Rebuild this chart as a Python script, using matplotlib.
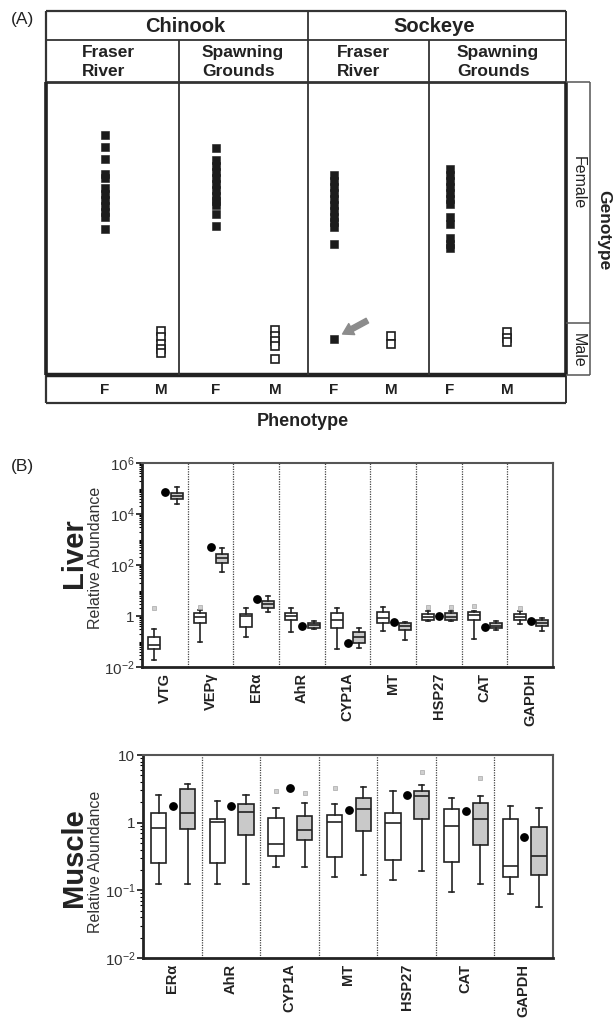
import numpy as np
import matplotlib
matplotlib.use('Agg')
import matplotlib.pyplot as plt
from matplotlib.ticker import FixedLocator, FixedFormatter, LogLocator, NullFormatter

plt.rcParams['font.family'] = ['Liberation Sans', 'DejaVu Sans']
plt.rcParams['mathtext.fontset'] = 'custom'
plt.rcParams['mathtext.rm'] = 'Liberation Sans'
plt.rcParams['mathtext.default'] = 'regular'

# ---------------- Panel A data ----------------
species = ['Chinook', 'Sockeye']
sites = ['Fraser\nRiver', 'Spawning\nGrounds', 'Fraser\nRiver', 'Spawning\nGrounds']
phenotypes = ['F', 'M', 'F', 'M', 'F', 'M', 'F', 'M']
# genotype score of each fish (0 = male end, 100 = female end)
geno_scores = [
    [81.9, 77.7, 73.6, 68.6, 67.2, 63.8, 61.8, 59.7, 57.7, 55.6, 53.8, 50.0],
    [15.0, 13.0, 10.6, 8.9, 7.5],
    [77.6, 73.4, 71.3, 69.3, 67.2, 65.2, 63.1, 61.1, 59.4, 58.0, 54.8, 51.0],
    [15.4, 13.3, 11.6, 9.9, 5.3],
    [68.3, 66.2, 64.2, 62.1, 60.1, 58.0, 56.0, 53.9, 52.2, 50.5, 44.7, 12.4],
    [13.3, 10.6],
    [70.3, 68.3, 66.2, 64.2, 62.1, 60.1, 58.5, 53.8, 51.5, 46.8, 44.7, 43.3],
    [14.7, 12.6, 11.1],
]
arrow_fish = (4, 11)  # the phenotypic female with male genotype

# ---------------- Panel B data ----------------
# box stats: [whisker low, q1, median, q3, whisker high]
liver_genes = ['VTG', 'VEPγ', 'ERα', 'AhR', 'CYP1A', 'MT', 'HSP27', 'CAT', 'GAPDH']
liver_white = [
    [0.019, 0.051, 0.072, 0.155, 0.30],
    [0.098, 0.51, 0.93, 1.26, 1.7],
    [0.155, 0.38, 1.0, 1.17, 2.1],
    [0.24, 0.69, 1.0, 1.35, 2.0],
    [0.051, 0.33, 0.69, 1.35, 2.1],
    [0.26, 0.55, 0.85, 1.48, 2.2],
    [0.66, 0.72, 0.93, 1.2, 1.6],
    [0.13, 0.72, 1.1, 1.45, 1.6],
    [0.47, 0.69, 0.93, 1.17, 1.6],
]
liver_white_out = [[2.1], [2.3], [], [], [], [], [2.3], [2.45], [2.0]]
liver_dot = [74000, 490, 4.8, 0.41, 0.089, 0.58, 1.02, 0.38, 0.66]
liver_gray = [
    [24000, 38000, 51000, 69000, 117000],
    [51, 123, 182, 270, 447],
    [1.4, 2.0, 2.95, 3.9, 6.0],
    [0.30, 0.35, 0.43, 0.51, 0.63],
    [0.054, 0.089, 0.155, 0.24, 0.35],
    [0.11, 0.28, 0.42, 0.55, 0.60],
    [0.62, 0.69, 0.93, 1.35, 1.6],
    [0.28, 0.33, 0.42, 0.51, 0.66],
    [0.26, 0.42, 0.55, 0.69, 0.81],
]
liver_gray_out = [[], [], [], [], [], [], [2.3], [], []]

muscle_genes = ['ERα', 'AhR', 'CYP1A', 'MT', 'HSP27', 'CAT', 'GAPDH']
muscle_white = [
    [0.123, 0.25, 0.83, 1.41, 2.6],
    [0.123, 0.25, 1.02, 1.15, 2.1],
    [0.22, 0.32, 0.49, 1.17, 1.62],
    [0.16, 0.31, 1.02, 1.29, 1.86],
    [0.14, 0.28, 0.98, 1.38, 2.95],
    [0.095, 0.26, 0.89, 1.58, 2.3],
    [0.087, 0.16, 0.23, 1.15, 1.76],
]
muscle_white_out = [[], [], [2.9], [3.2], [], [], []]
muscle_dot = [1.76, 1.76, 3.3, 1.55, 2.6, 1.48, 0.62]
muscle_gray = [
    [0.123, 0.81, 1.41, 3.1, 3.7],
    [0.126, 0.66, 1.45, 1.86, 2.6],
    [0.22, 0.55, 0.79, 1.26, 1.95],
    [0.17, 0.76, 1.58, 2.3, 3.4],
    [0.19, 1.12, 2.5, 2.95, 3.6],
    [0.126, 0.46, 1.12, 1.93, 2.5],
    [0.056, 0.17, 0.32, 0.85, 1.66],
]
muscle_gray_out = [[], [], [2.75], [], [5.6], [4.5], []]

# ---------------- layout (pixels) ----------------
W, H = 614, 1018
ink = '#222222'
fig = plt.figure(figsize=(W / 100, H / 100), dpi=100)


def rect(x0, y0, x1, y1):
    return [x0 / W, 1 - y1 / H, (x1 - x0) / W, (y1 - y0) / H]


# frame axes in pixel units for the table grid
fr = fig.add_axes([0, 0, 1, 1])
fr.set_xlim(0, W)
fr.set_ylim(H, 0)
fr.axis('off')

L, R, T, B = 46, 566, 11, 403
row1, row2, body_bot = 40, 82, 375


def seg(x0, y0, x1, y1, lw=1.3, c='#333333'):
    fr.plot([x0, x1], [y0, y1], color=c, lw=lw, solid_capstyle='butt')


seg(L, T, R, T, 1.6)
seg(L, T, L, B, 1.6)
seg(R, T, R, B, 1.4)
seg(L, B, R, B, 1.6)
seg(L, row1, R, row1, 1.3)
seg(L, row2, R, row2, 2.0)
seg(L, body_bot, R, body_bot, 3.2, ink)
seg(L, row2, L, body_bot, 2.6, ink)
seg(R, row2, R, body_bot, 2.6, ink)
seg(308, T, 308, body_bot, 1.3)
seg(179, row1, 179, body_bot, 1.3)
seg(429, row1, 429, body_bot, 1.3)
# genotype box
seg(R, row2, 590, row2, 1.1, '#555555')
seg(590, row2, 590, body_bot, 1.1, '#555555')
seg(R, body_bot, 590, body_bot, 1.1, '#555555')
seg(R, 323, 590, 323, 1.1, '#555555')

fr.text(22, 19, '(A)', fontsize=12.5, ha='center', va='center', color=ink)
fr.text(185, 26, species[0], fontsize=14.5, fontweight='bold', ha='center', va='center', color=ink)
fr.text(434, 26, species[1], fontsize=14.5, fontweight='bold', ha='center', va='center', color=ink)
for sx, s in zip([82, 202, 337, 457], sites):
    fr.text(sx, 62, s, fontsize=12.5, fontweight='bold', ha='left', va='center',
            multialignment='left', linespacing=1.3, color=ink)
fr.text(303, 421, 'Phenotype', fontsize=13, fontweight='bold', ha='center', va='center', color=ink)
fr.text(604, 230, 'Genotype', fontsize=12.5, fontweight='bold', ha='center', va='center',
        rotation=-90, color=ink)
fr.text(578, 183, 'Female', fontsize=11.5, ha='center', va='center', rotation=-90, color=ink)
fr.text(578, 350, 'Male', fontsize=11.5, ha='center', va='center', rotation=-90, color=ink)

# scatter of genotype scores
col_x = [105, 161, 216, 275, 334, 391, 450, 507]
axA = fig.add_axes(rect(L, row2, R, body_bot))
axA.set_xlim(L, R)
axA.set_ylim(0, 100)
axA.axis('off')
for cx, ph, vals in zip(col_x, phenotypes, geno_scores):
    if ph == 'F':
        axA.plot([cx] * len(vals), vals, 's', ms=5.9, mfc='#1c1c1c', mec='#1c1c1c', mew=0.4)
    else:
        axA.plot([cx] * len(vals), vals, 's', ms=5.4, mfc='white', mec='#1c1c1c', mew=1.2)
    fr.text(cx, 390, ph, fontsize=11, fontweight='bold', ha='center', va='center', color=ink)

ci, fi = arrow_fish
axA.annotate('', xy=(col_x[ci], geno_scores[ci][fi]), xytext=(24, 13), textcoords='offset points',
             arrowprops=dict(arrowstyle='simple,head_length=0.75,head_width=0.9,tail_width=0.38',
                             mutation_scale=10, color='#8c8c8c', shrinkA=0, shrinkB=7))


# ---------------- Panel B ----------------
def draw_panel(ax, genes, white, white_out, dots, gray, gray_out, ylim, ticks, ticklabels):
    n = len(genes)
    ax.set_yscale('log')
    ax.set_xlim(0, n)
    ax.set_ylim(*ylim)
    common = dict(widths=0.26, patch_artist=True, manage_ticks=False, capwidths=0.09,
                  medianprops=dict(color=ink, lw=1.2),
                  whiskerprops=dict(color=ink, lw=1.2),
                  capprops=dict(color=ink, lw=1.2),
                  flierprops=dict(marker='s', ms=2.8, mfc='#cfcfcf', mec='#a8a8a8', mew=0.5))
    for i in range(n):
        for st, out, off, fc in [(white[i], white_out[i], 0.27, 'white'),
                                 (gray[i], gray_out[i], 0.76, '#c9c9c9')]:
            stats = [dict(whislo=st[0], q1=st[1], med=st[2], q3=st[3], whishi=st[4], fliers=out)]
            ax.bxp(stats, positions=[i + off],
                   boxprops=dict(facecolor=fc, edgecolor=ink, lw=1.2), **common)
        ax.plot(i + 0.51, dots[i], 'o', color='black', ms=5.3)
    for k in range(1, n):
        ax.axvline(k, color='#444444', lw=0.9, ls=(0, (1, 1)))
    ax.yaxis.set_major_locator(FixedLocator(ticks))
    ax.yaxis.set_major_formatter(FixedFormatter(ticklabels))
    ax.yaxis.set_minor_locator(LogLocator(base=10, subs=np.arange(1, 10), numticks=50))
    ax.yaxis.set_minor_formatter(NullFormatter())
    ax.tick_params(axis='y', which='major', length=4.5, width=1.1, labelsize=11,
                   labelcolor='#333333', pad=1)
    ax.tick_params(axis='y', which='minor', length=2.2, width=0.8)
    ax.set_xticks(np.arange(n) + 0.5)
    ax.set_xticklabels(genes, rotation=90, fontweight='bold', fontsize=10.5, color=ink)
    ax.tick_params(axis='x', length=0, pad=4)
    for side in ['left', 'bottom']:
        ax.spines[side].set_linewidth(2.0)
        ax.spines[side].set_color(ink)
    for side in ['top', 'right']:
        ax.spines[side].set_linewidth(1.5)
        ax.spines[side].set_color('#555555')


axL = fig.add_axes(rect(142, 463, 553, 667))
draw_panel(axL, liver_genes, liver_white, liver_white_out, liver_dot, liver_gray, liver_gray_out,
           (1e-2, 1e6), [1e-2, 1, 1e2, 1e4, 1e6],
           ['$10^{-2}$', '1', '$10^{2}$', '$10^{4}$', '$10^{6}$'])
axM = fig.add_axes(rect(143, 755, 553, 958))
draw_panel(axM, muscle_genes, muscle_white, muscle_white_out, muscle_dot, muscle_gray, muscle_gray_out,
           (1e-2, 10), [1e-2, 1e-1, 1, 10], ['$10^{-2}$', '$10^{-1}$', '1', '10'])

fr.text(22, 466, '(B)', fontsize=12.5, ha='center', va='center', color=ink)
fr.text(74, 553, 'Liver', fontsize=21, fontweight='bold', rotation=90, ha='center', va='center', color=ink)
fr.text(96, 558, 'Relative Abundance', fontsize=11.5, rotation=90, ha='center', va='center', color='#333333')
fr.text(74, 858, 'Muscle', fontsize=21, fontweight='bold', rotation=90, ha='center', va='center', color=ink)
fr.text(96, 862, 'Relative Abundance', fontsize=11.5, rotation=90, ha='center', va='center', color='#333333')

fig.savefig('out.png', dpi=100)
